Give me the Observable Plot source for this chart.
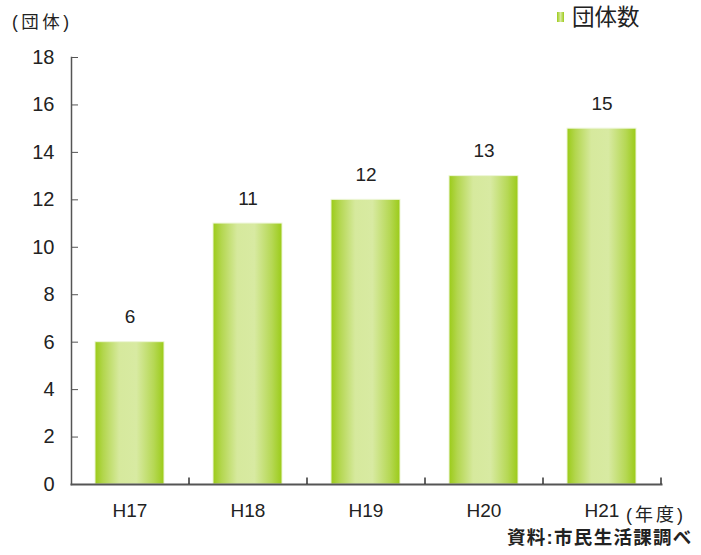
<!DOCTYPE html>
<html><head><meta charset="utf-8">
<script src="https://cdn.jsdelivr.net/npm/d3@7"></script>
<script src="https://cdn.jsdelivr.net/npm/@observablehq/plot@0.6"></script>
<style>
body{margin:0;background:#fff;font-family:"Liberation Sans","Noto Sans CJK JP",sans-serif;}
#wrap{position:relative;width:701px;height:555px;}
#chart{position:absolute;left:0;top:0;}
.lbl{position:absolute;color:#222;white-space:nowrap;line-height:1;}
</style></head><body>
<div id="wrap">
<div id="chart"></div>
<div class="lbl" style="left:12px;top:14px;font-size:17.5px;letter-spacing:3.5px;">(団体)</div>
<div class="lbl" style="left:557px;top:7px;font-size:22.5px;"><span style="display:inline-block;width:7px;height:10px;background:linear-gradient(90deg,#9ccb19,#d8eaa0,#9ccb19);margin-right:8px;vertical-align:middle;position:relative;top:-2px"></span>団体数</div>
<div class="lbl" style="left:626px;top:506px;font-size:18px;letter-spacing:3px;">(年度)</div>
<div class="lbl" style="left:507px;top:529px;font-size:18.5px;font-weight:bold;letter-spacing:1.3px;">資料:市民生活課調べ</div>
</div>
<script>
const categories = ["H17", "H18", "H19", "H20", "H21"];
const values = [6, 11, 12, 13, 15];
const yTicks = [0, 2, 4, 6, 8, 10, 12, 14, 16, 18];

const data = categories.map((c, i) => ({year: c, value: values[i]}));

function gradientDefs() {
  const defs = d3.create("svg:defs");
  const g = defs.append("linearGradient").attr("id", "barGrad")
    .attr("x1", 0).attr("x2", 1).attr("y1", 0).attr("y2", 0);
  [["0%", "#9bcb18"], ["12%", "#b3d64e"], ["35%", "#d6e99d"], ["60%", "#d8eaa2"], ["85%", "#b6d855"], ["100%", "#9bcb18"]]
    .forEach(([o, c]) => g.append("stop").attr("offset", o).attr("stop-color", c));
  return defs.node();
}

const chart = Plot.plot({
  width: 701,
  height: 555,
  marginLeft: 71,
  marginRight: 40,
  marginTop: 57,
  marginBottom: 71,
  style: {fontFamily: '"Liberation Sans","Noto Sans CJK JP",sans-serif', fontSize: "19px", color: "#222", background: "#fff"},
  x: {domain: categories, paddingInner: 0.415, paddingOuter: 0.2075, label: null},
  y: {domain: [0, 18], label: null},
  marks: [
    gradientDefs,
    Plot.barY(data, {x: "year", y: "value", fill: "url(#barGrad)", stroke: "#eef6d8", strokeWidth: 1}),
    Plot.frame({anchor: "left", stroke: "#555", strokeWidth: 1.5}),
    Plot.frame({anchor: "bottom", stroke: "#555", strokeWidth: 2}),
    Plot.axisY({ticks: yTicks, tickSize: -7, tickPadding: 24, stroke: "#555", fill: "#222", fontSize: 20}),
    Plot.axisX({tickSize: 0, tickPadding: 19, fill: "#222", fontSize: 19}),
    Plot.ruleX(categories, {x: d => d, dx: 59, y1: 0, y2: 0.27, stroke: "#333", strokeWidth: 1.5}),
    Plot.text(data, {x: "year", y: "value", text: d => String(d.value), lineAnchor: "bottom", dy: -19, fill: "#222", fontSize: 19})
  ]
});
document.getElementById("chart").appendChild(chart);
</script>
</body></html>
